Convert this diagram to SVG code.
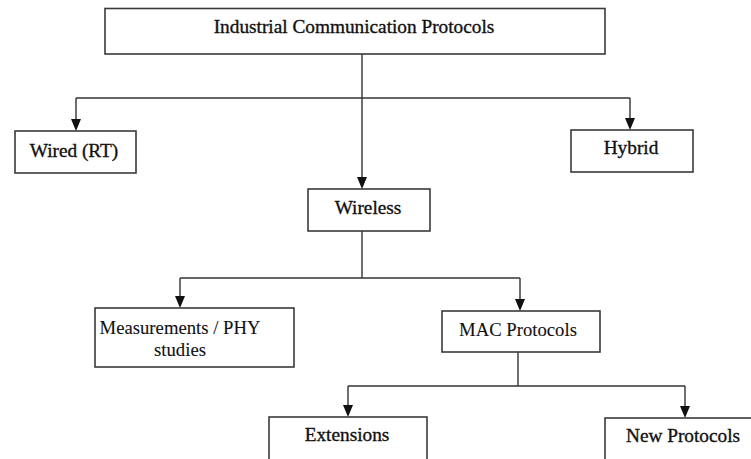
<svg xmlns="http://www.w3.org/2000/svg" width="751" height="459" viewBox="0 0 751 459">
<style>
.box{fill:#fff;stroke:#3a3a3a;stroke-width:1.6}
.ln{fill:none;stroke:#333;stroke-width:1.4}
.ah{fill:#111}
.t{font-family:"Liberation Serif","Times New Roman",serif;font-size:19.3px;fill:#111;text-anchor:middle;font-weight:normal;stroke:#111;stroke-width:0.35}
.n{font-size:18.7px;stroke-width:0.1}
</style>
<g id="connectors">
<path class="ln" d="M362,54 V178"/>
<path class="ln" d="M76,98 H630"/>
<path class="ln" d="M76,98 V120"/>
<path class="ln" d="M630,98 V119"/>
<path class="ln" d="M362,231 V278"/>
<path class="ln" d="M180,278 H520"/>
<path class="ln" d="M180,278 V297"/>
<path class="ln" d="M520,278 V300"/>
<path class="ln" d="M518,352 V386"/>
<path class="ln" d="M348,386 H685"/>
<path class="ln" d="M348,386 V406"/>
<path class="ln" d="M685,386 V407"/>
<path class="ah" d="M357,177 L367,177 L362,189 Z"/>
<path class="ah" d="M71,119 L81,119 L76,131 Z"/>
<path class="ah" d="M625,118 L635,118 L630,130 Z"/>
<path class="ah" d="M175,296 L185,296 L180,308 Z"/>
<path class="ah" d="M515,299 L525,299 L520,311 Z"/>
<path class="ah" d="M343,405 L353,405 L348,417 Z"/>
<path class="ah" d="M680,406 L690,406 L685,418 Z"/>
</g>
<g id="n-root"><rect class="box" x="105" y="8.5" width="500" height="45.5"/><text class="t" x="354" y="33">Industrial Communication Protocols</text></g>
<g id="n-wired"><rect class="box" x="15" y="131" width="121" height="42"/><text class="t" x="74" y="157">Wired (RT)</text></g>
<g id="n-hybrid"><rect class="box" x="571" y="130" width="122" height="42"/><text class="t" x="631" y="154">Hybrid</text></g>
<g id="n-wireless"><rect class="box" x="308" y="189" width="122" height="42"/><text class="t" x="368" y="214">Wireless</text></g>
<g id="n-meas"><rect class="box" x="95" y="308" width="199" height="59"/><text class="t n" x="180" y="334">Measurements / PHY</text><text class="t n" x="180" y="356">studies</text></g>
<g id="n-mac"><rect class="box" x="442" y="311" width="158" height="41"/><text class="t n" x="518" y="336">MAC Protocols</text></g>
<g id="n-ext"><rect class="box" x="269" y="417" width="158" height="50"/><text class="t" x="347" y="441">Extensions</text></g>
<g id="n-new"><rect class="box" x="605" y="418" width="160" height="50"/><text class="t" x="683" y="442">New Protocols</text></g>
</svg>
